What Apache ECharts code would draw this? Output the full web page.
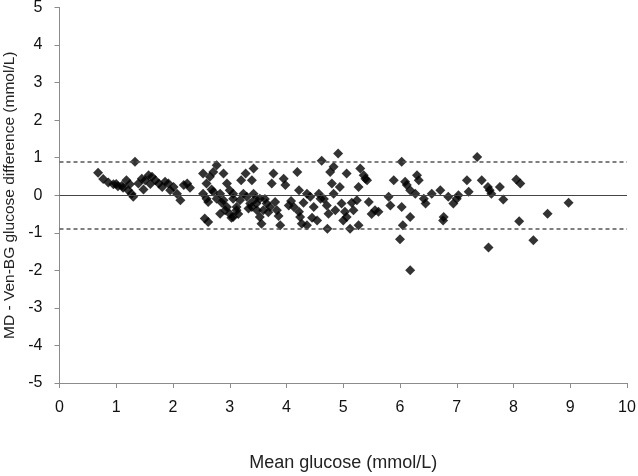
<!DOCTYPE html>
<html><head><meta charset="utf-8">
<script src="https://cdn.jsdelivr.net/npm/echarts@6/dist/echarts.min.js"></script>
<style>html,body{margin:0;padding:0;background:#fff}#c{width:638px;height:476px}</style>
</head><body><div id="c"></div>
<script>
const xTitle = "Mean glucose (mmol/L)";
const yTitle = "MD - Ven-BG glucose difference (mmol/L)";
const meanDiff = 0;
const upperLoA = 0.88;
const lowerLoA = -0.88;
const meanGlucose = [
 0.68,0.77,0.86,0.95,1.03,1.12,1.18,1.24,1.33,1.27,1.30,1.21,1.39,1.45,1.51,1.57,1.63,1.69,1.75,1.81,1.86,1.92,1.95,2.01,2.07,2.13,2.19,2.25,2.30,1.00,1.10,1.48,1.60,
 2.53,2.59,2.65,2.71,2.77,2.53,2.59,2.62,2.56,2.62,2.83,2.89,2.95,3.00,3.06,2.95,3.00,3.06,3.12,3.18,3.24,3.30,3.36,3.28,3.20,3.48,3.53,2.71,2.77,2.83,2.89,3.12,3.06,2.68,2.86,3.15,
 3.42,3.39,3.42,3.39,3.47,3.53,3.59,3.56,3.65,3.71,3.74,3.77,3.80,3.83,3.89,3.95,3.98,4.04,4.13,4.19,4.22,4.22,4.24,4.27,4.36,4.36,4.42,4.48,4.54,4.57,4.60,4.62,4.71,4.74,4.72,4.77,4.80,4.83,4.83,4.86,4.91,4.94,4.97,5.00,5.03,5.06,5.06,5.12,5.18,5.24,5.27,5.27,5.30,5.36,5.39,5.42,5.45,5.56,5.62,5.80,5.83,5.89,
 6.00,6.03,6.03,6.09,6.12,6.18,6.18,6.27,6.30,6.33,6.42,6.45,6.56,6.71,6.77,6.05,6.18,6.76,
 6.85,6.94,7.00,7.03,7.18,7.21,7.36,7.44,7.55,7.58,7.61,7.76,7.82,8.05,8.12,8.10,8.35,8.60,8.97,7.56,
 3.62,3.68,3.86,4.08,4.30,4.45,4.66,5.15,5.50,3.33,3.45,2.92,3.03
];
const glucoseDiff = [
 0.60,0.43,0.34,0.29,0.24,0.20,0.40,0.29,0.89,0.04,-0.04,0.13,0.31,0.44,0.40,0.53,0.49,0.40,0.31,0.22,0.36,0.31,0.13,0.22,0.04,-0.13,0.27,0.31,0.20,0.30,0.25,0.15,0.30,
 0.58,0.31,0.49,0.62,0.80,0.04,-0.09,-0.18,-0.62,-0.71,-0.49,0.58,0.31,0.13,-0.09,-0.31,-0.49,-0.58,-0.31,-0.13,0.04,-0.04,-0.22,0.58,0.40,-0.40,-0.58,0.09,-0.09,0.04,-0.13,-0.40,0.04,0.15,-0.20,-0.50,
 0.71,0.40,0.04,-0.31,-0.22,-0.09,-0.40,-0.76,-0.22,-0.31,0.31,0.58,-0.18,-0.40,-0.80,0.44,0.27,-0.27,-0.31,0.62,0.13,-0.44,-0.58,-0.76,0.04,-0.80,-0.04,-0.31,-0.67,0.04,-0.09,0.92,-0.27,-0.49,-0.89,0.62,0.31,0.76,0.04,-0.40,1.11,0.22,-0.22,-0.67,-0.44,0.58,-0.58,-0.89,-0.40,-0.13,0.22,-0.80,0.71,0.53,0.44,0.40,-0.18,-0.40,-0.44,-0.04,-0.27,0.40,
 -1.17,0.89,-0.31,0.36,0.27,-0.58,0.13,0.04,0.53,0.40,-0.09,-0.22,0.04,0.13,-0.58,-0.80,-2.00,-0.67,
 -0.04,-0.22,-0.09,0.00,0.40,0.09,1.02,0.40,0.22,0.13,0.04,0.22,-0.11,0.42,0.31,-0.69,-1.20,-0.49,-0.20,-1.39,
 -0.10,-0.45,-0.55,-0.15,-0.20,-0.60,-0.10,-0.20,-0.50,-0.35,-0.10,-0.40,-0.60
];
const xTicks = [0,1,2,3,4,5,6,7,8,9,10];
const yTicks = [-5,-4,-3,-2,-1,0,1,2,3,4,5];

const points = meanGlucose.map((x, i) => [x, glucoseDiff[i]]);
const axisGray = '#8c8c8c';
const font = 'Liberation Sans, Arial, sans-serif';
const chart = echarts.init(document.getElementById('c'), null, {renderer: 'canvas'});
chart.setOption({
  animation: false,
  grid: {left: 59.5, right: 11, top: 7.5, bottom: 93, containLabel: false, outerBoundsMode: 'none'},
  xAxis: {
    type: 'value', min: xTicks[0], max: xTicks[xTicks.length-1], interval: 1,
    name: xTitle, nameLocation: 'middle', nameGap: 71,
    nameTextStyle: {color: '#222', fontSize: 18, fontFamily: font},
    axisLine: {onZero: false, lineStyle: {color: axisGray, width: 1}},
    axisTick: {show: true, inside: false, length: 5, lineStyle: {color: axisGray}},
    axisLabel: {color: '#111', fontSize: 16, fontFamily: font, margin: 17},
    splitLine: {show: false}
  },
  yAxis: {
    type: 'value', min: yTicks[0], max: yTicks[yTicks.length-1], interval: 1,
    name: yTitle, nameLocation: 'middle', nameGap: 38, nameRotate: 90,
    nameTextStyle: {color: '#222', fontSize: 15.5, fontFamily: font},
    axisLine: {show: true, onZero: false, lineStyle: {color: axisGray, width: 1}},
    axisTick: {show: true, inside: false, length: 5, lineStyle: {color: axisGray}},
    axisLabel: {color: '#111', fontSize: 16, fontFamily: font, margin: 17},
    splitLine: {show: false}
  },
  series: [{
    type: 'scatter',
    symbol: 'diamond',
    symbolSize: 10,
    itemStyle: {color: '#000'},
    data: points,
    markLine: {
      silent: true, symbol: ['none','none'], label: {show: false},
      data: [
        {yAxis: meanDiff, lineStyle: {type: 'solid', color: '#444', width: 1.2}},
        {yAxis: upperLoA, lineStyle: {type: [4,3], color: '#555', width: 1.5}},
        {yAxis: lowerLoA, lineStyle: {type: [4,3], color: '#555', width: 1.5}}
      ]
    },
    z: 3
  }]
});
</script></body></html>
